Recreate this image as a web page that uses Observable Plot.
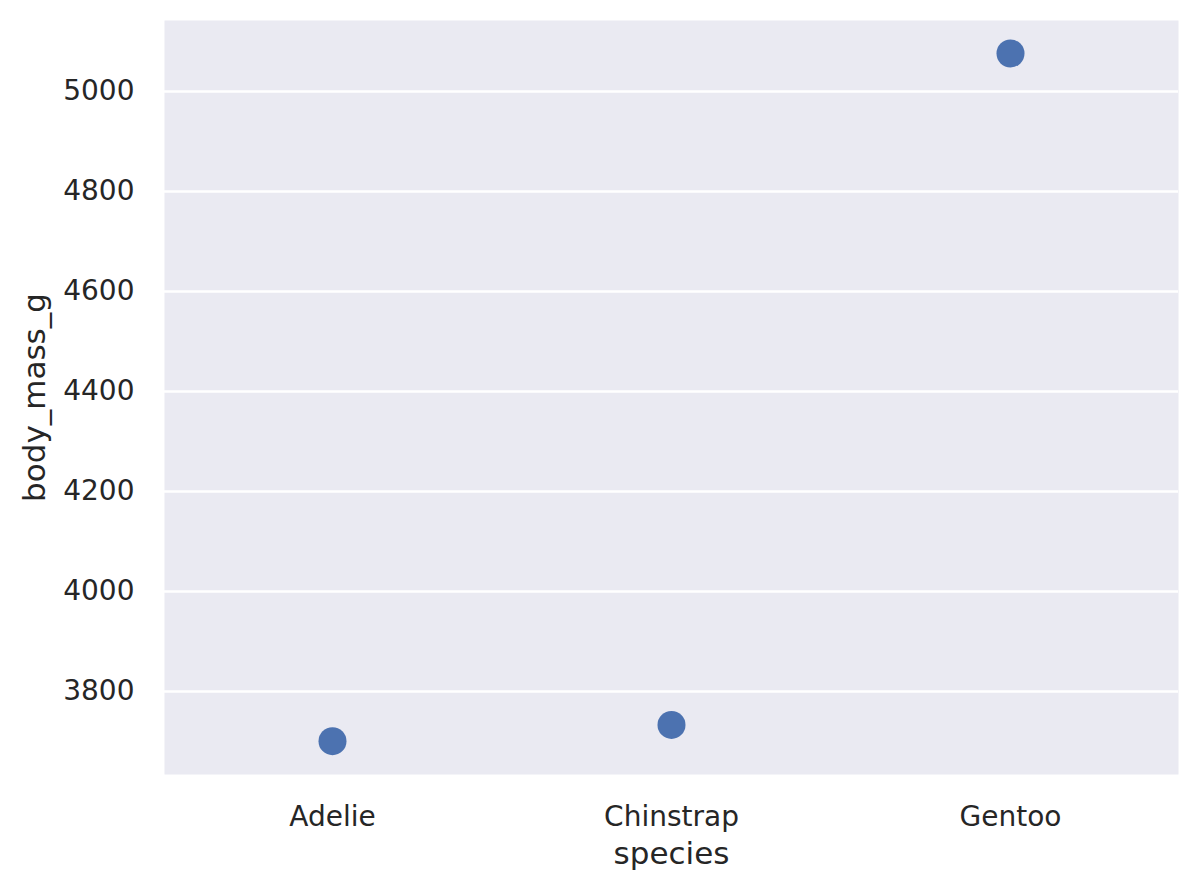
<!DOCTYPE html>
<html>
<head>
<meta charset="utf-8">
<script src="https://cdn.jsdelivr.net/npm/d3@7"></script>
<script src="https://cdn.jsdelivr.net/npm/@observablehq/plot@0.6"></script>
<style>
  html, body { margin: 0; padding: 0; background: white; }
</style>
</head>
<body>
<div id="chart"></div>
<script>
const species = ["Adelie", "Chinstrap", "Gentoo"];
const bodyMass = [3700.66, 3733.09, 5076.02];
const yTicks = [3800, 4000, 4200, 4400, 4600, 4800, 5000];
const xLabel = "species";
const yLabel = "body_mass_g";

const data = species.map((s, i) => ({species: s, body_mass_g: bodyMass[i]}));

const chart = Plot.plot({
  width: 1198,
  height: 890,
  marginLeft: 164,
  marginRight: 20,
  marginTop: 20,
  marginBottom: 116,
  style: {background: "white", fontFamily: "DejaVu Sans", color: "#262626"},
  x: {type: "point", domain: species, padding: 0.494},
  y: {domain: [3634, 5142]},
  marks: [
    Plot.frame({fill: "#EAEAF2", stroke: null}),
    Plot.gridY(yTicks, {stroke: "white", strokeOpacity: 1, strokeWidth: 2.5}),
    Plot.axisY(yTicks, {tickSize: 0, tickPadding: 30, fontSize: 28, label: null, fill: "#262626", tickFormat: d => String(d)}),
    Plot.axisX({tickSize: 0, tickPadding: 32, fontSize: 28, label: null, fill: "#262626"}),
    Plot.text([yLabel], {frameAnchor: "left", dx: -129, rotate: -90, fontSize: 31, fill: "#262626", textAnchor: "middle", lineAnchor: "middle"}),
    Plot.text([xLabel], {frameAnchor: "bottom", dy: 80, fontSize: 31, fill: "#262626", textAnchor: "middle", lineAnchor: "middle"}),
    Plot.dot(data, {x: "species", y: "body_mass_g", r: 14, fill: "#4C72B0", stroke: null})
  ]
});
document.getElementById("chart").appendChild(chart);
</script>
</body>
</html>
